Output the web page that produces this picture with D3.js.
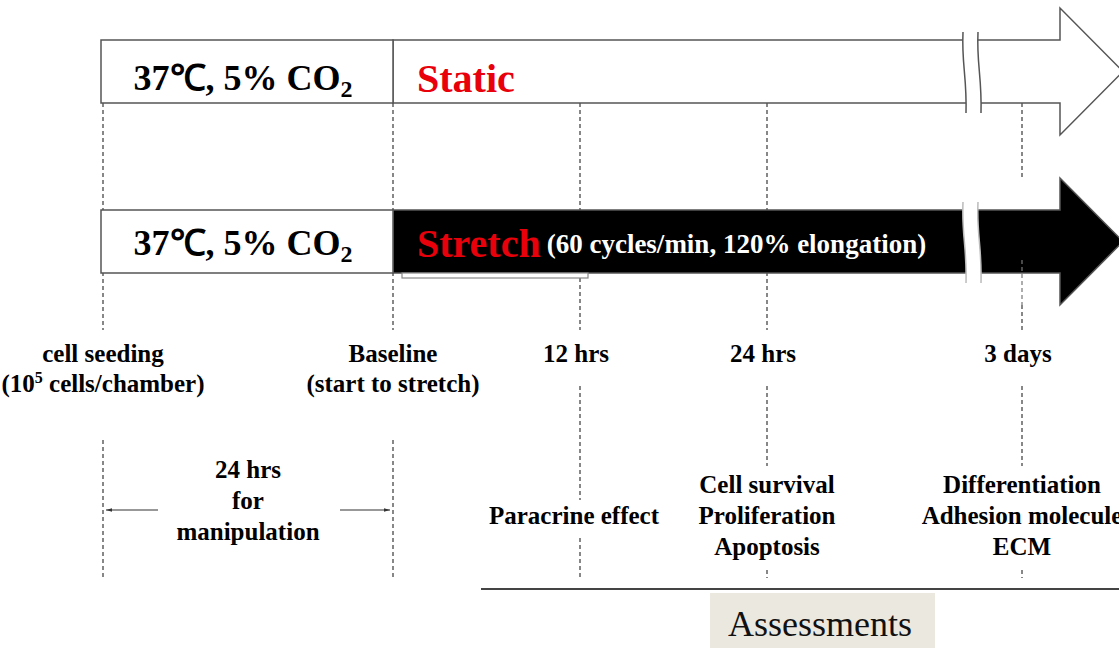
<!DOCTYPE html>
<html>
  <head>
    <meta charset="utf-8">
    <title>Stretch experiment timeline</title>
    <style type="text/css">
      body { margin: 0; overflow: hidden; background: #fff; }
      text { font-family: "Liberation Serif", "Times New Roman", serif; }
    </style>
    <script src="https://d3js.org/d3.v7.min.js"></script>
  </head>
  <body>
    <svg width="1119" height="648"></svg>
    <script>
      // timeline points and what is shown at each
      const timepoints = ['seeding', 'baseline', '12h', '24h', '3d'];
      const timeLabels = [
        ['cell seeding', '(10|5| cells/chamber)'],
        ['Baseline', '(start to stretch)'],
        ['12 hrs'],
        ['24 hrs'],
        ['3 days']
      ];
      const assessPoints = ['12h', '24h', '3d'];
      const assessLabels = [
        ['Paracrine effect'],
        ['Cell survival', 'Proliferation', 'Apoptosis'],
        ['Differentiation', 'Adhesion molecule', 'ECM']
      ];
      const conditions = ['Static', 'Stretch'];
      const conditionNote = ['', '(60 cycles/min, 120% elongation)'];
      const incubation = '37\u2103, 5% CO';
      const manipulation = ['24 hrs', 'for', 'manipulation'];

      const svg = d3.select('svg');

      const x = d3.scaleOrdinal().domain(timepoints).range([103, 393, 580, 767, 1022]);
      const row = d3.scaleOrdinal().domain(conditions).range([40, 210]);
      const textY = d3.scaleOrdinal().domain(conditions).range([92, 257]);
      const barH = 63, headX = 1060, tipX = 1123, headOver = 32;
      const breakX = 963;

      // dashed guide lines, drawn first so boxes sit on top
      const guides = {
        seeding: [[103, 210], [272, 330], [440, 578]],
        baseline: [[103, 210], [272, 330], [440, 578]],
        '12h': [[103, 210], [278, 330], [386, 500], [538, 578]],
        '24h': [[103, 210], [272, 330], [386, 466], [570, 578]],
        '3d': [[103, 178], [305, 330], [386, 466], [570, 578]]
      };
      const guideG = svg.append('g');
      timepoints.forEach(t => {
        guideG.selectAll(null).data(guides[t]).enter().append('line')
          .attr('x1', x(t)).attr('x2', x(t))
          .attr('y1', d => d[0]).attr('y2', d => d[1])
          .attr('stroke', '#555').attr('stroke-width', 1.4)
          .attr('stroke-dasharray', '4,3');
      });

      function arrowPath(y0, from) {
        const p = d3.path();
        p.moveTo(from, y0);
        p.lineTo(headX, y0);
        p.lineTo(headX, y0 - headOver);
        p.lineTo(tipX, y0 + barH / 2);
        p.lineTo(headX, y0 + barH + headOver);
        p.lineTo(headX, y0 + barH);
        p.lineTo(from, y0 + barH);
        p.closePath();
        return p.toString();
      }

      const rows = svg.selectAll('g.row').data(conditions).enter().append('g')
        .attr('class', 'row');

      rows.append('path')
        .attr('d', d => arrowPath(row(d), x('baseline')))
        .attr('fill', (d, i) => i === 0 ? '#fff' : '#000')
        .attr('stroke', '#555').attr('stroke-width', 1.5);

      // faint guide at 3 days inside the black arrow
      svg.append('line')
        .attr('x1', x('3d')).attr('x2', x('3d'))
        .attr('y1', row('Stretch') + 50).attr('y2', row('Stretch') + 95)
        .attr('stroke', '#777').attr('stroke-width', 1.2).attr('stroke-dasharray', '4,3');

      // thin tab under the Stretch label
      svg.append('rect')
        .attr('x', 402).attr('y', row('Stretch') + barH)
        .attr('width', 186).attr('height', 5)
        .attr('fill', '#fff').attr('stroke', '#888').attr('stroke-width', 1.2);

      rows.append('rect')
        .attr('x', 101).attr('y', d => row(d))
        .attr('width', x('baseline') - 101).attr('height', barH)
        .attr('fill', '#fff').attr('stroke', '#555').attr('stroke-width', 1.5);

      // break marks
      const wave = (x0, y0, y1) => `M${x0},${y0} C${x0 - 1.5},${y0 + (y1 - y0) * 0.4} ${x0 + 4},${y0 + (y1 - y0) * 0.55} ${x0 + 3},${y1}`;
      rows.each(function (d, i) {
        const g = d3.select(this);
        const y0 = row(d) - 8, y1 = row(d) + barH + 10;
        g.append('path')
          .attr('d', `M${breakX},${y0} C${breakX - 1.5},${y0 + (y1 - y0) * 0.4} ${breakX + 4},${y0 + (y1 - y0) * 0.55} ${breakX + 3},${y1}
                      L${breakX + 18},${y1} C${breakX + 19},${y0 + (y1 - y0) * 0.55} ${breakX + 13.5},${y0 + (y1 - y0) * 0.4} ${breakX + 15},${y0} Z`)
          .attr('fill', '#fff').attr('stroke', 'none');
        [breakX, breakX + 15].forEach(bx => {
          g.append('path').attr('d', wave(bx, y0, y1))
            .attr('fill', 'none').attr('stroke', i === 0 ? '#555' : '#bbb').attr('stroke-width', 1.5);
        });
      });

      // incubation text in both boxes
      const inc = rows.append('text')
        .attr('x', (101 + x('baseline')) / 2 - 4).attr('y', d => textY(d) - 2)
        .attr('text-anchor', 'middle')
        .style('font-size', '36px').style('font-weight', 'bold').attr('fill', '#000');
      inc.append('tspan').text(incubation);
      inc.append('tspan').attr('dy', 7).style('font-size', '24px').text('2');

      // condition names
      const cond = rows.append('text')
        .attr('x', 417).attr('y', d => textY(d))
        .style('font-weight', 'bold');
      cond.append('tspan').attr('fill', '#e8000b')
        .style('font-size', '40px').text(d => d);
      cond.append('tspan').attr('fill', '#fff').attr('dx', 6).attr('dy', -4)
        .style('font-size', '27px').text((d, i) => conditionNote[i]);

      // time labels
      const tl = svg.selectAll('text.time').data(timepoints).enter().append('text')
        .attr('class', 'time')
        .attr('text-anchor', 'middle')
        .style('font-size', '25px').style('font-weight', 'bold');
      tl.each(function (t, i) {
        const el = d3.select(this);
        timeLabels[i].forEach((line, j) => {
          const ts = el.append('tspan').attr('x', x(t) + (i >= 2 ? -4 : 0)).attr('y', 362 + j * 30);
          const parts = line.split('|');
          ts.text(parts[0]);
          if (parts.length > 1) {
            el.append('tspan').attr('dy', -9).style('font-size', '16px').text(parts[1]);
            el.append('tspan').attr('dy', 9).text(parts[2]);
          }
        });
      });

      // manipulation span
      const midX = (x('seeding') + x('baseline')) / 2;
      svg.append('text').attr('text-anchor', 'middle')
        .style('font-size', '25px').style('font-weight', 'bold')
        .selectAll('tspan').data(manipulation).enter().append('tspan')
        .attr('x', midX).attr('y', (d, i) => 478 + i * 31).text(d => d);

      svg.append('defs').append('marker')
        .attr('id', 'ah').attr('viewBox', '0 0 10 10').attr('refX', 10).attr('refY', 5)
        .attr('markerWidth', 5).attr('markerHeight', 5).attr('orient', 'auto')
        .append('path').attr('d', 'M0,2 L10,5 L0,8 Z').attr('fill', '#333');
      [[158, x('seeding') + 3], [340, x('baseline') - 3]].forEach(d => {
        svg.append('line').attr('x1', d[0]).attr('x2', d[1]).attr('y1', 510).attr('y2', 510)
          .attr('stroke', '#333').attr('stroke-width', 1.2).attr('marker-end', 'url(#ah)');
      });

      // assessment labels
      const al = svg.selectAll('text.assess').data(assessPoints).enter().append('text')
        .attr('class', 'assess').attr('text-anchor', 'middle')
        .style('font-size', '25px').style('font-weight', 'bold');
      al.each(function (t, i) {
        const lines = assessLabels[i];
        const start = lines.length === 1 ? 524 : 493;
        d3.select(this).selectAll('tspan').data(lines).enter().append('tspan')
          .attr('x', x(t) - (i === 0 ? 6 : 0)).attr('y', (d, j) => start + j * 31).text(d => d);
      });

      // assessments bracket
      svg.append('line').attr('x1', 481).attr('x2', 1119).attr('y1', 589).attr('y2', 589)
        .attr('stroke', '#444').attr('stroke-width', 2);
      svg.append('rect').attr('x', 710).attr('y', 593).attr('width', 225).attr('height', 60)
        .attr('fill', '#ebe8df');
      svg.append('text').attr('x', 820).attr('y', 636).attr('text-anchor', 'middle')
        .style('font-size', '36px').attr('fill', '#111').text('Assessments');
    </script>
  </body>
</html>
